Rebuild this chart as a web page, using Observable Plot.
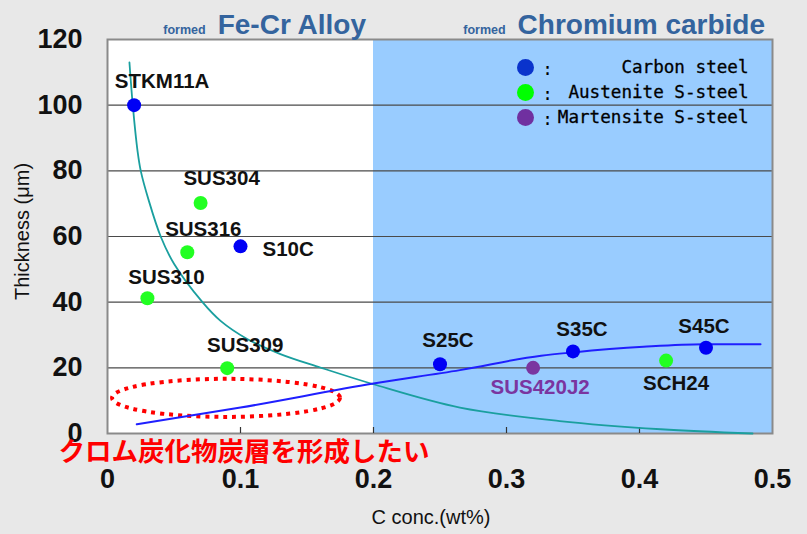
<!DOCTYPE html>
<html><head><meta charset="utf-8">
<script src="https://cdn.jsdelivr.net/npm/d3@7"></script>
<script src="https://cdn.jsdelivr.net/npm/@observablehq/plot@0.6"></script>
<style>
html,body{margin:0;padding:0;background:#e8e8e8;}
#chart{width:807px;height:534px;}
</style></head><body><div id="chart"></div>
<script>
// ---- axis ticks ----
const xTicks = [0, 0.1, 0.2, 0.3, 0.4, 0.5];
const xTickLabels = ["0", "0.1", "0.2", "0.3", "0.4", "0.5"];
const xInnerTicks = [0.1, 0.2, 0.3, 0.4];
const yTicks = [0, 20, 40, 60, 80, 100, 120];
const yGrid = [20, 40, 60, 80, 100];

// ---- regions ----
const regionStart = [0, 0.2];
const regionEnd = [0.2, 0.5];
const regionPrefix = ["formed", "formed"];
const regionTitle = ["Fe-Cr Alloy", "Chromium carbide"];
const regionFill = ["#ffffff", "#99ccff"];

// ---- measured steels ----
const steelNames = ["STKM11A", "SUS304", "SUS316", "S10C", "SUS310", "SUS309", "S25C", "SUS420J2", "S35C", "SCH24", "S45C"];
const steelC = [0.02, 0.07, 0.06, 0.10, 0.03, 0.09, 0.25, 0.32, 0.35, 0.42, 0.45];
const steelThickness = [100, 70.2, 55.2, 57, 41.2, 19.9, 21.1, 20, 25, 22.2, 26.1];
const steelType = ["Carbon steel", "Austenite S-steel", "Austenite S-steel", "Carbon steel", "Austenite S-steel", "Austenite S-steel", "Carbon steel", "Martensite S-steel", "Carbon steel", "Austenite S-steel", "Carbon steel"];

// ---- legend ----
const legendTypes = ["Carbon steel", "Austenite S-steel", "Martensite S-steel"];
const legendColors = ["#0a33cc", "#00ff00", "#7030a0"];
const dotColors = {"Carbon steel": "#0000f5", "Austenite S-steel": "#22ff22", "Martensite S-steel": "#7a35a0"};

// ---- curves ----
const alloyCurveC = [0.0165, 0.019, 0.0226, 0.025, 0.031, 0.04, 0.05, 0.0714, 0.085, 0.105, 0.13, 0.16, 0.2, 0.265, 0.34, 0.416, 0.485];
const alloyCurveT = [113, 100, 86, 80, 71, 60, 51.7, 40, 34.3, 28.8, 24.2, 20.1, 15, 7.9, 3.8, 1.3, 0];
const carbideCurveC = [0.022, 0.1, 0.2, 0.265, 0.326, 0.35, 0.403, 0.448, 0.491];
const carbideCurveT = [2.8, 7.9, 15.2, 19.3, 23.7, 24.7, 26.4, 27.2, 27.2];

// ---- annotation ----
const noteText = "クロム炭化物炭層を形成したい";
const noteEllipse = [0.0895, 10.7, 0.0857, 5.8]; // cx, cy, rx, ry in data units

// ---- layout (label offsets in px) ----
const labelDx = [28, 21, 16, 22, 19, 18, 8, 7, 9, 10, -2];
const labelDy = [-17, -18, -16, 10, -14, -16, -17, 26, -15, 29, -15];
const labelAnchor = ["middle", "middle", "middle", "start", "middle", "middle", "middle", "middle", "middle", "middle", "middle"];

const idx = d3.range(steelNames.length);
const font = "'Liberation Sans', Arial, sans-serif";
const mono = "'DejaVu Sans Mono', 'Liberation Mono', monospace";

const labelMarks = idx.map(i => Plot.text([i], {
  x: d => steelC[d], y: d => steelThickness[d], text: d => steelNames[d],
  dx: labelDx[i], dy: labelDy[i], textAnchor: labelAnchor[i], lineAnchor: "bottom",
  fontSize: 20.5, fontWeight: "bold",
  fill: steelType[i] === "Martensite S-steel" ? "#7a35a0" : "#111"
}));

const legendMarks = legendTypes.flatMap((t, i) => [
  Plot.dot([t], {frameAnchor: "top-right", dx: -247, dy: 28 + 25 * i, r: 8.5, fill: legendColors[i], stroke: "none"}),
  Plot.text([":"], {frameAnchor: "top-right", dx: -225, dy: 30 + 25 * i, textAnchor: "middle", lineAnchor: "middle", fontSize: 17.6, fontFamily: mono, fill: "#000"}),
  Plot.text([t], {frameAnchor: "top-right", dx: -24, dy: 28 + 25 * i, textAnchor: "end", lineAnchor: "middle", fontSize: 17.6, fontFamily: mono, fill: "#000", stroke: "#000", strokeWidth: 0.3})
]);

const plot = Plot.plot({
  width: 807, height: 534,
  marginLeft: 107, marginRight: 35, marginTop: 39, marginBottom: 101,
  x: {domain: [0, 0.5]},
  y: {domain: [0, 120]},
  color: {type: "identity"},
  style: {background: "#e8e8e8", fontFamily: font, overflow: "visible"},
  marks: [
    Plot.rect(regionStart.map((d, i) => i), {x1: i => regionStart[i], x2: i => regionEnd[i], y1: 0, y2: 120, fill: i => regionFill[i]}),
    Plot.ruleY(yGrid, {stroke: "#4a4a4a", strokeWidth: 1.2}),
    Plot.frame({stroke: "#8a8a8a", strokeWidth: 2}),
    Plot.ruleX(xInnerTicks, {insetTop: 388, stroke: "#333", strokeWidth: 1.2}),
    Plot.axisY(yTicks, {tickSize: 0, tickPadding: 25, fontSize: 27, fontWeight: "bold", fill: "#111", label: null}),
    Plot.axisX(xTicks, {tickSize: 0, tickPadding: 35, fontSize: 27, fontWeight: "bold", fill: "#111", label: null,
      tickFormat: d => xTickLabels[xTicks.indexOf(d)]}),
    Plot.text(["Thickness (μm)"], {frameAnchor: "left", textAnchor: "middle", lineAnchor: "middle", rotate: -90, dx: -85, dy: -5, fontSize: 20, fill: "#111"}),
    Plot.text(["C conc.(wt%)"], {frameAnchor: "bottom", textAnchor: "middle", lineAnchor: "middle", dx: -9, dy: 84, fontSize: 20, fill: "#111"}),
    Plot.line(alloyCurveC.map((c, i) => i), {x: i => alloyCurveC[i], y: i => alloyCurveT[i], stroke: "#1a9f9f", strokeWidth: 1.8, curve: "catmull-rom"}),
    Plot.line(carbideCurveC.map((c, i) => i), {x: i => carbideCurveC[i], y: i => carbideCurveT[i], stroke: "#1f1fff", strokeWidth: 2, curve: "monotone-x"}),
    Plot.dot(idx, {x: i => steelC[i], y: i => steelThickness[i], r: 7, fill: i => dotColors[steelType[i]], stroke: "none"}),
    ...labelMarks,
    ...legendMarks,
    Plot.text([noteText], {frameAnchor: "bottom-left", textAnchor: "start", lineAnchor: "middle", dx: -49, dy: 19, fontSize: 26.5, fontWeight: "bold", fill: "#ff0000", fontFamily: "'Noto Sans CJK JP', sans-serif"})
  ]
});

document.getElementById("chart").appendChild(plot);

// region headers and annotation ellipse, placed through the plot's own scales
const svg = d3.select(plot);
const xs = plot.scale("x"), ys = plot.scale("y");
const headers = svg.append("g").attr("font-family", font).attr("font-weight", "bold").attr("fill", "#34649e");
regionTitle.forEach((t, i) => {
  const txt = headers.append("text").attr("x", xs.apply(regionEnd[i]) - 7).attr("y", 34).attr("text-anchor", "end");
  txt.append("tspan").attr("font-size", 12.5).text(regionPrefix[i]);
  txt.append("tspan").attr("font-size", 28).attr("dx", 12).text(t);
});

const firstLine = plot.querySelector('g[aria-label="line"]');
const [cx, cy, rx, ry] = noteEllipse;
const ell = document.createElementNS("http://www.w3.org/2000/svg", "ellipse");
ell.setAttribute("cx", xs.apply(cx));
ell.setAttribute("cy", ys.apply(cy));
ell.setAttribute("rx", xs.apply(cx + rx) - xs.apply(cx));
ell.setAttribute("ry", ys.apply(cy) - ys.apply(cy + ry));
ell.setAttribute("fill", "none");
ell.setAttribute("stroke", "#ff0000");
ell.setAttribute("stroke-width", 4);
ell.setAttribute("stroke-dasharray", "4 5");
firstLine.parentNode.insertBefore(ell, firstLine);
</script></body></html>
